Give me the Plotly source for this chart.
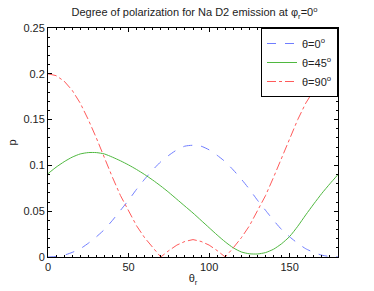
import plotly.graph_objects as go

theta_r = [0, 5, 10, 15, 20, 25, 30, 35, 40, 45, 50, 55, 60, 65, 70, 75, 80, 85, 90,
           95, 100, 105, 110, 115, 120, 125, 130, 135, 140, 145, 150, 155, 160, 165, 170, 175, 180]

p_theta0 = [0.000, 0.0005, 0.002, 0.005, 0.009, 0.015, 0.022, 0.030, 0.040, 0.051, 0.062, 0.074,
            0.085, 0.095, 0.104, 0.111, 0.117, 0.121, 0.122,
            0.121, 0.117, 0.111, 0.104, 0.095, 0.085, 0.074, 0.062, 0.051, 0.040, 0.030, 0.022,
            0.015, 0.009, 0.005, 0.002, 0.0005, 0.000]

p_theta45 = [0.091, 0.098, 0.104, 0.109, 0.1125, 0.114, 0.114, 0.1125, 0.109, 0.105, 0.1005, 0.0955,
             0.090, 0.084, 0.0775, 0.0705, 0.063, 0.0555, 0.048,
             0.040, 0.032, 0.024, 0.0165, 0.010, 0.0055, 0.0035, 0.0033, 0.0048, 0.0085, 0.0145, 0.0224,
             0.0335, 0.046, 0.058, 0.0695, 0.080, 0.090]

p_theta90 = [0.200, 0.198, 0.192, 0.182, 0.168, 0.150, 0.130, 0.108, 0.087, 0.067, 0.050, 0.034,
             0.021, 0.010, 0.000, 0.007, 0.013, 0.017, 0.019,
             0.017, 0.013, 0.007, 0.000, 0.010, 0.021, 0.034, 0.050, 0.067, 0.087, 0.108, 0.130,
             0.150, 0.168, 0.182, 0.192, 0.198, 0.200]

series_names = ["θ=0<sup>o</sup>", "θ=45<sup>o</sup>", "θ=90<sup>o</sup>"]

FONT = "Liberation Sans, Arial, Helvetica, sans-serif"

fig = go.Figure()
fig.add_trace(go.Scatter(x=theta_r, y=p_theta0, mode="lines", name=series_names[0],
                         line=dict(color="#6f7dff", width=1, dash="dash", shape="spline", smoothing=0.6)))
fig.add_trace(go.Scatter(x=theta_r, y=p_theta45, mode="lines", name=series_names[1],
                         line=dict(color="#4fb83f", width=1, shape="spline", smoothing=0.6)))
fig.add_trace(go.Scatter(x=theta_r, y=p_theta90, mode="lines", name=series_names[2],
                         line=dict(color="#ff5a5a", width=1, dash="dashdot")))

axis_common = dict(
    showline=True, linecolor="black", linewidth=1, mirror="allticks",
    ticks="inside", ticklen=4, tickcolor="black",
    showgrid=False, zeroline=False, automargin=False,
    tickfont=dict(family=FONT, size=11, color="#222"),
)

fig.update_xaxes(range=[0, 180], dtick=50, tick0=0,
                 minor=dict(ticks="inside", ticklen=2, dtick=5, tickcolor="black"),
                 title=dict(text="θ<sub>r</sub>", font=dict(family=FONT, size=11, color="#222"), standoff=2),
                 **axis_common)
fig.update_yaxes(range=[0, 0.25], dtick=0.05, tick0=0,
                 minor=dict(ticks="inside", ticklen=2, dtick=0.01, tickcolor="black"),
                 title=dict(text="p", font=dict(family=FONT, size=11, color="#222"), standoff=4),
                 **axis_common)

fig.update_layout(
    width=374, height=291,
    margin=dict(l=48, r=36, t=28, b=34),
    paper_bgcolor="white", plot_bgcolor="white",
    title=dict(text="Degree of polarization for Na D2 emission at φ<sub>r</sub>=0<sup>o</sup>",
               x=0.52, xanchor="center", y=0.957, yanchor="middle",
               font=dict(family=FONT, size=11, color="#222")),
    legend=dict(x=1, y=1, xanchor="right", yanchor="top",
                bordercolor="black", borderwidth=1, bgcolor="white",
                font=dict(family=FONT, size=11, color="#222"),
                itemwidth=30, tracegroupgap=0),
    showlegend=True,
)

fig.write_html("out.html", config={"displayModeBar": False},
               post_script="document.body.style.margin='0';document.body.style.overflow='hidden';")
